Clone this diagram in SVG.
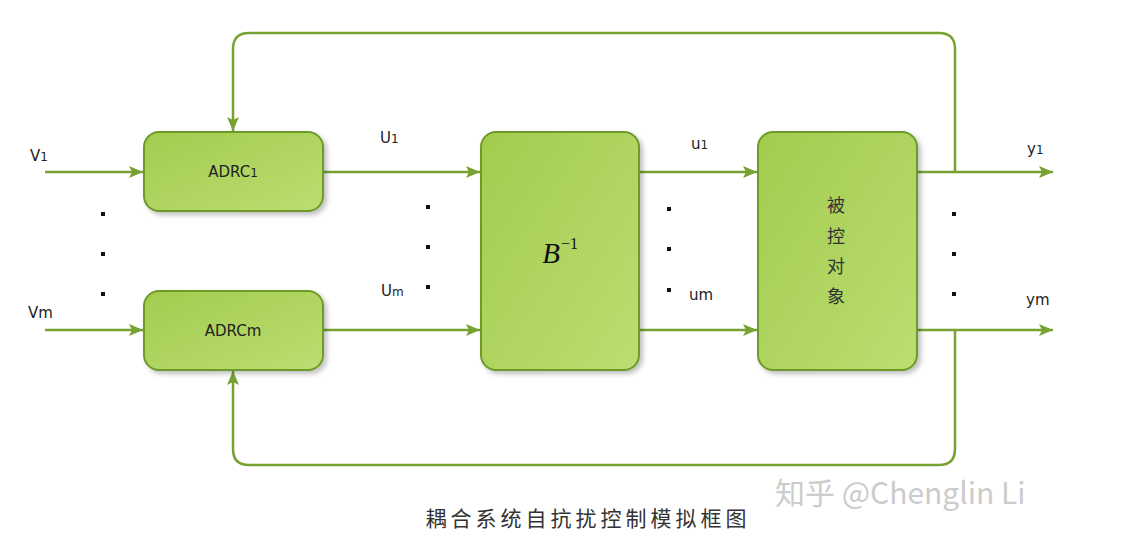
<svg xmlns="http://www.w3.org/2000/svg" width="1124" height="548" viewBox="0 0 1124 548">
<defs>
<linearGradient id="g" x1="0" y1="0" x2="1" y2="1">
<stop offset="0" stop-color="#a2cc4e"/>
<stop offset="1" stop-color="#bcdd72"/>
</linearGradient>
<filter id="sh" x="-10%" y="-10%" width="130%" height="130%">
<feGaussianBlur in="SourceAlpha" stdDeviation="2.5"/>
<feOffset dx="3" dy="3" result="b"/>
<feComponentTransfer><feFuncA type="linear" slope="0.25"/></feComponentTransfer>
<feMerge><feMergeNode/><feMergeNode in="SourceGraphic"/></feMerge>
</filter>
<marker id="ah" markerUnits="userSpaceOnUse" markerWidth="16" markerHeight="14" refX="14" refY="7" orient="auto">
<path d="M0,1 L14,7 L0,13 L3,7 Z" fill="#77a232"/>
</marker>
<style>
.box{fill:url(#g);stroke:#6e9a2c;stroke-width:2;filter:url(#sh)}
.ln{fill:none;stroke:#77a232;stroke-width:2.5}
.lbl{font-family:"DejaVu Sans","Liberation Sans",sans-serif;font-size:15px;fill:#222}
.btxt{font-family:"DejaVu Sans","Liberation Sans",sans-serif;font-size:15px;fill:#222;text-anchor:middle}
.sub{font-size:12px}
.cj{font-family:"Noto Sans CJK SC",sans-serif;font-size:18px;fill:#333;text-anchor:middle}
.dot{fill:#111}
</style>
</defs>
<rect width="1124" height="548" fill="#ffffff"/>

<g id="connectors">
<path class="ln" d="M45 172 H143" marker-end="url(#ah)"/>
<path class="ln" d="M45 330 H143" marker-end="url(#ah)"/>
<path class="ln" d="M323 172 H480" marker-end="url(#ah)"/>
<path class="ln" d="M323 330 H480" marker-end="url(#ah)"/>
<path class="ln" d="M640 172 H757" marker-end="url(#ah)"/>
<path class="ln" d="M640 330 H757" marker-end="url(#ah)"/>
<path class="ln" d="M917 172 H1053" marker-end="url(#ah)"/>
<path class="ln" d="M917 330 H1053" marker-end="url(#ah)"/>
<path class="ln" d="M955 172 V49 Q955 33 939 33 H249 Q233 33 233 49 V131" marker-end="url(#ah)"/>
<path class="ln" d="M955 330 V449 Q955 465 939 465 H249 Q233 465 233 449 V371" marker-end="url(#ah)"/>
</g>

<g id="adrc1">
<rect class="box" x="144" y="132" width="179" height="79" rx="15"/>
<text class="btxt" x="233" y="177">ADRC<tspan class="sub">1</tspan></text>
</g>
<g id="adrcm">
<rect class="box" x="144" y="291" width="179" height="79" rx="15"/>
<text class="btxt" x="233" y="336">ADRCm</text>
</g>
<g id="binv">
<rect class="box" x="481" y="132" width="158" height="238" rx="15"/>
<text x="551" y="263" font-family="Liberation Serif,serif" font-style="italic" font-size="29" fill="#111" text-anchor="middle">B</text>
<text x="561" y="249" font-family="Liberation Serif,serif" font-size="16" fill="#111">−1</text>
</g>
<g id="plant">
<rect class="box" x="758" y="132" width="159" height="238" rx="15"/>
<text class="cj" x="836" y="212">被</text>
<text class="cj" x="836" y="243">控</text>
<text class="cj" x="836" y="273">对</text>
<text class="cj" x="836" y="303">象</text>
</g>

<g id="labels">
<text class="lbl" x="30" y="161">V<tspan class="sub">1</tspan></text>
<text class="lbl" x="28" y="318">Vm</text>
<text class="lbl" x="380" y="143">U<tspan class="sub">1</tspan></text>
<text class="lbl" x="381" y="296">U<tspan class="sub">m</tspan></text>
<text class="lbl" x="691" y="149">u<tspan class="sub">1</tspan></text>
<text class="lbl" x="689" y="300" font-size="14">um</text>
<text class="lbl" x="1027" y="154">y<tspan class="sub">1</tspan></text>
<text class="lbl" x="1026" y="305">ym</text>
</g>

<g id="dots">
<rect class="dot" x="101" y="212" width="4" height="4"/>
<rect class="dot" x="101" y="252" width="4" height="4"/>
<rect class="dot" x="101" y="292" width="4" height="4"/>
<rect class="dot" x="426" y="205" width="4" height="4"/>
<rect class="dot" x="426" y="245" width="4" height="4"/>
<rect class="dot" x="426" y="285" width="4" height="4"/>
<rect class="dot" x="667" y="207" width="4" height="4"/>
<rect class="dot" x="667" y="247" width="4" height="4"/>
<rect class="dot" x="667" y="288" width="4" height="4"/>
<rect class="dot" x="952" y="212" width="4" height="4"/>
<rect class="dot" x="952" y="252" width="4" height="4"/>
<rect class="dot" x="952" y="292" width="4" height="4"/>
</g>

<g id="caption">
<text x="588" y="526" font-family="Noto Sans CJK SC,sans-serif" font-size="21" fill="#333" text-anchor="middle" letter-spacing="4">耦合系统自抗扰控制模拟框图</text>
<text x="775" y="504" font-family="Noto Sans CJK SC,sans-serif" font-size="30" fill="#cccccc">知乎 @Chenglin Li</text>
</g>
</svg>
